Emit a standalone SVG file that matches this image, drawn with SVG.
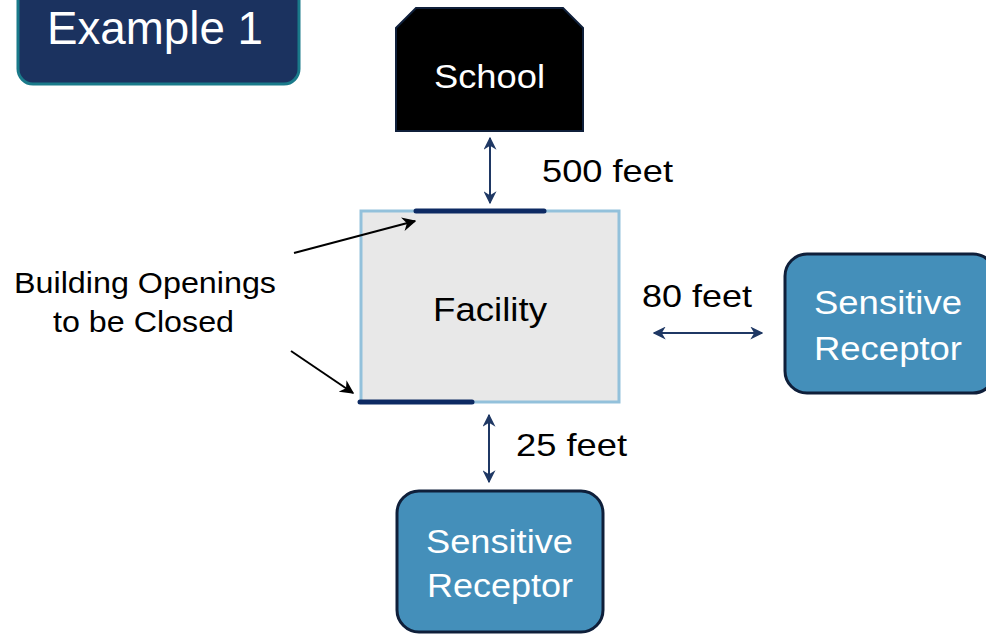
<svg xmlns="http://www.w3.org/2000/svg" width="986" height="635" viewBox="0 0 986 635">
<defs>
<style>
text{font-family:"Liberation Sans",Arial,sans-serif;}
.w{fill:#ffffff;}
.k{fill:#000000;}
.dim{stroke:#1f3864;stroke-width:2;fill:none;marker-start:url(#ah);marker-end:url(#ah);}
.ptr{stroke:#000000;stroke-width:2;fill:none;marker-end:url(#ab);}
.open{stroke:#0d2a63;stroke-width:5;stroke-linecap:round;}
.rcp{fill:#448fba;stroke:#0f1f3a;stroke-width:3;}
</style>
<marker id="ah" viewBox="0 0 10 10" refX="9" refY="5" markerWidth="6.5" markerHeight="6.5" orient="auto-start-reverse" markerUnits="strokeWidth">
<path d="M0,0 L10,5 L0,10 L3,5 Z" fill="#1f3864"/>
</marker>
<marker id="ab" viewBox="0 0 10 10" refX="9" refY="5" markerWidth="7" markerHeight="7" orient="auto" markerUnits="strokeWidth">
<path d="M0,0 L10,5 L0,10 L3,5 Z" fill="#000000"/>
</marker>
</defs>
<rect width="986" height="635" fill="#ffffff"/>

<g id="title">
<rect x="18" y="-20" width="281" height="104" rx="15" fill="#1b325f" stroke="#1a7a8a" stroke-width="3"/>
<text class="w" x="47" y="44" font-size="47" textLength="216" lengthAdjust="spacingAndGlyphs">Example 1</text>
</g>

<g id="school">
<polygon points="416,8 563,8 583,28 583,131 396,131 396,28" fill="#000000" stroke="#0f1f3a" stroke-width="2"/>
<text class="w" x="434" y="88" font-size="34" textLength="111" lengthAdjust="spacingAndGlyphs">School</text>
</g>

<g id="facility">
<rect x="361" y="211" width="258" height="191" fill="#e8e8e8" stroke="#93c1db" stroke-width="3"/>
<text class="k" x="433" y="321" font-size="34" textLength="114" lengthAdjust="spacingAndGlyphs">Facility</text>
<line class="open" x1="416" y1="211" x2="544" y2="211"/>
<line class="open" x1="360" y1="402" x2="472" y2="402"/>
</g>

<g id="receptor-east">
<rect class="rcp" x="785" y="254" width="210" height="139" rx="22"/>
<text class="w" x="814" y="314" font-size="34" textLength="148" lengthAdjust="spacingAndGlyphs">Sensitive</text>
<text class="w" x="814" y="360" font-size="34" textLength="148" lengthAdjust="spacingAndGlyphs">Receptor</text>
</g>

<g id="receptor-south">
<rect class="rcp" x="397" y="491" width="206" height="141" rx="22"/>
<text class="w" x="426" y="553" font-size="34" textLength="147" lengthAdjust="spacingAndGlyphs">Sensitive</text>
<text class="w" x="427" y="597" font-size="34" textLength="146" lengthAdjust="spacingAndGlyphs">Receptor</text>
</g>

<g id="openings-label">
<text class="k" x="14" y="293" font-size="29" textLength="262" lengthAdjust="spacingAndGlyphs">Building Openings</text>
<text class="k" x="53" y="332" font-size="29" textLength="181" lengthAdjust="spacingAndGlyphs">to be Closed</text>
</g>

<g id="connectors">
<line class="dim" x1="490" y1="138" x2="490" y2="203"/>
<line class="dim" x1="654" y1="333" x2="762" y2="333"/>
<line class="dim" x1="489" y1="415" x2="489" y2="482"/>
<line class="ptr" x1="294" y1="253" x2="415" y2="221"/>
<line class="ptr" x1="291" y1="351" x2="353" y2="393"/>
</g>

<g id="labels">
<text class="k" x="542" y="182" font-size="32" textLength="131" lengthAdjust="spacingAndGlyphs">500 feet</text>
<text class="k" x="642" y="307" font-size="32" textLength="110" lengthAdjust="spacingAndGlyphs">80 feet</text>
<text class="k" x="516" y="456" font-size="32" textLength="111" lengthAdjust="spacingAndGlyphs">25 feet</text>
</g>
</svg>
